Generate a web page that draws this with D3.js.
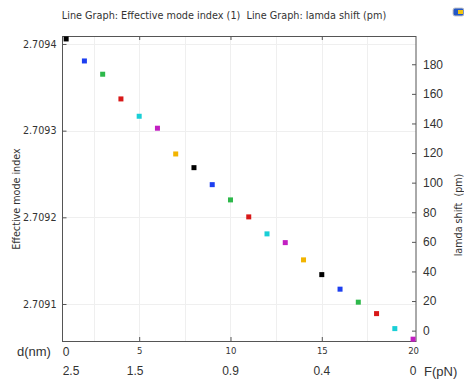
<!DOCTYPE html>
<html>
<head>
<meta charset="utf-8">
<script src="https://cdn.jsdelivr.net/npm/d3@7"></script>
<style>
  body { margin: 0; background: #fff; }
  svg { display: block; }
</style>
</head>
<body>
<div id="chart"></div>
<script>
// data
const dValues = [1, 2, 3, 4, 5, 6, 7, 8, 9, 10, 11, 12, 13, 14, 15, 16, 17, 18, 19, 20];
const neffValues = [2.7094058, 2.7093804, 2.7093651, 2.7093366, 2.7093166, 2.7093028, 2.7092731,
  2.7092573, 2.7092377, 2.7092201, 2.7092005, 2.7091809, 2.7091708, 2.7091509, 2.7091339,
  2.7091171, 2.7091021, 2.7090889, 2.7090716, 2.7090594];
const markerColors = ["#000000", "#1d3ff0", "#2db84a", "#d81818", "#19cfd6", "#c21fc2", "#f2b400"];
const leftTicks = [2.7091, 2.7092, 2.7093, 2.7094];
const rightTicks = [0, 20, 40, 60, 80, 100, 120, 140, 160, 180];
const dTicks = [0, 5, 10, 15, 20];
const fLabels = ["2.5", "1.5", "0.9", "0.4", "0"];
const gridX = [2.5, 5, 7.5, 10, 12.5, 15, 17.5];

const width = 464, height = 383;
const mLeft = 62.5, mRight = 416, mTop = 36, mBottom = 341;

const svg = d3.select("#chart").append("svg")
  .attr("width", width)
  .attr("height", height);

// scales
const x = d3.scaleLinear().domain([0.8, 20.16]).range([mLeft, mRight]);
const y = d3.scaleLinear().domain([2.7090573, 2.7094092]).range([mBottom, mTop]);
const y2 = d3.scaleLinear().domain([-7, 199.1]).range([mBottom, mTop]);

// title (two spaces kept between the two graph names)
svg.append("text")
  .attr("x", 224).attr("y", 19)
  .attr("text-anchor", "middle")
  .attr("font-family", "DejaVu Sans")
  .attr("font-size", 9.7)
  .attr("fill", "#333")
  .style("white-space", "pre")
  .text("Line Graph: Effective mode index (1)  Line Graph: lamda shift (pm)");

// little icon top right
svg.append("rect")
  .attr("x", 453).attr("y", 8).attr("width", 11).attr("height", 8)
  .attr("rx", 2).attr("fill", "#2457c5").attr("stroke", "#c9c9c9");
svg.append("rect")
  .attr("x", 458).attr("y", 10).attr("width", 5).attr("height", 4)
  .attr("fill", "#f1c40f");

// grid
const grid = svg.append("g").attr("stroke", "#efefef").attr("stroke-width", 1);
grid.selectAll("line.gx").data(gridX).join("line")
  .attr("x1", d => Math.round(x(d)) + 0.5).attr("x2", d => Math.round(x(d)) + 0.5)
  .attr("y1", mTop).attr("y2", mBottom);
grid.selectAll("line.gy").data(leftTicks).join("line")
  .attr("y1", d => Math.round(y(d)) + 0.5).attr("y2", d => Math.round(y(d)) + 0.5)
  .attr("x1", mLeft).attr("x2", mRight);

// frame
svg.append("rect")
  .attr("x", mLeft).attr("y", mTop + 0.5)
  .attr("width", mRight - mLeft).attr("height", mBottom - mTop)
  .attr("fill", "none").attr("stroke", "#555");

// left axis
svg.append("g")
  .attr("transform", `translate(${mLeft},0)`)
  .call(d3.axisLeft(y).tickValues(leftTicks).tickFormat(d3.format(".4f")).tickSizeInner(-4).tickSizeOuter(0).tickPadding(6))
  .call(g => g.select(".domain").remove())
  .call(g => g.selectAll("line").attr("stroke", "#555"))
  .call(g => g.selectAll("text").attr("font-family", "DejaVu Sans").attr("font-size", 9.6).attr("fill", "#333"));

// right axis
svg.append("g")
  .attr("transform", `translate(${mRight},0)`)
  .call(d3.axisRight(y2).tickValues(rightTicks).tickSizeInner(-4).tickSizeOuter(0).tickPadding(7))
  .call(g => g.select(".domain").remove())
  .call(g => g.selectAll("line").attr("stroke", "#555"))
  .call(g => g.selectAll("text").attr("font-family", "Liberation Sans").attr("font-size", 12).attr("fill", "#333"));

// top and bottom ticks
svg.append("g")
  .attr("transform", `translate(0,${mTop})`)
  .call(d3.axisTop(x).tickValues([5, 10, 15]).tickSizeInner(-4).tickSizeOuter(0).tickFormat(""))
  .call(g => g.select(".domain").remove())
  .call(g => g.selectAll("line").attr("stroke", "#555"));
svg.append("g")
  .attr("transform", `translate(0,${mBottom})`)
  .call(d3.axisBottom(x).tickValues([5, 10, 15, 20]).tickSizeInner(-4).tickSizeOuter(0).tickPadding(7))
  .call(g => g.select(".domain").remove())
  .call(g => g.selectAll("line").attr("stroke", "#555"))
  .call(g => g.selectAll("text").attr("font-family", "DejaVu Sans").attr("font-size", 8.5).attr("fill", "#333"));

// extra bottom labels: d(nm) 0 and the force row
svg.append("text")
  .attr("x", 17).attr("y", 356)
  .attr("font-family", "Liberation Sans").attr("font-size", 13).attr("fill", "#333")
  .text("d(nm)");
svg.append("text")
  .attr("x", x.range()[0] + 3.5).attr("y", 356)
  .attr("text-anchor", "middle")
  .attr("font-family", "Liberation Sans").attr("font-size", 12).attr("fill", "#333")
  .text("0");
svg.append("g").selectAll("text").data(dTicks).join("text")
  .attr("x", (d, i) => i === 0 ? x.range()[0] + 8.5 : (i === 1 ? x(d) - 4 : x(d)))
  .attr("y", 375)
  .attr("text-anchor", "middle")
  .attr("font-family", "Liberation Sans").attr("font-size", 12).attr("fill", "#333")
  .text((d, i) => fLabels[i]);
svg.append("text")
  .attr("x", 424).attr("y", 376)
  .attr("font-family", "Liberation Sans").attr("font-size", 13).attr("fill", "#333")
  .text("F(pN)");

// axis titles
svg.append("text")
  .attr("transform", "translate(20,199) rotate(-90)")
  .attr("text-anchor", "middle")
  .attr("font-family", "DejaVu Sans").attr("font-size", 9.6).attr("fill", "#333")
  .text("Effective mode index");
svg.append("text")
  .attr("transform", "translate(462,215) rotate(-90)")
  .attr("text-anchor", "middle")
  .attr("font-family", "DejaVu Sans").attr("font-size", 9.6).attr("fill", "#333")
  .style("white-space", "pre")
  .text("lamda shift  (pm)");

// markers
svg.append("g").selectAll("rect").data(dValues).join("rect")
  .attr("x", (d, i) => x(d) - 2.5)
  .attr("y", (d, i) => y(neffValues[i]) - 2.5)
  .attr("width", 5).attr("height", 5)
  .attr("fill", (d, i) => markerColors[i % markerColors.length]);
</script>
</body>
</html>
